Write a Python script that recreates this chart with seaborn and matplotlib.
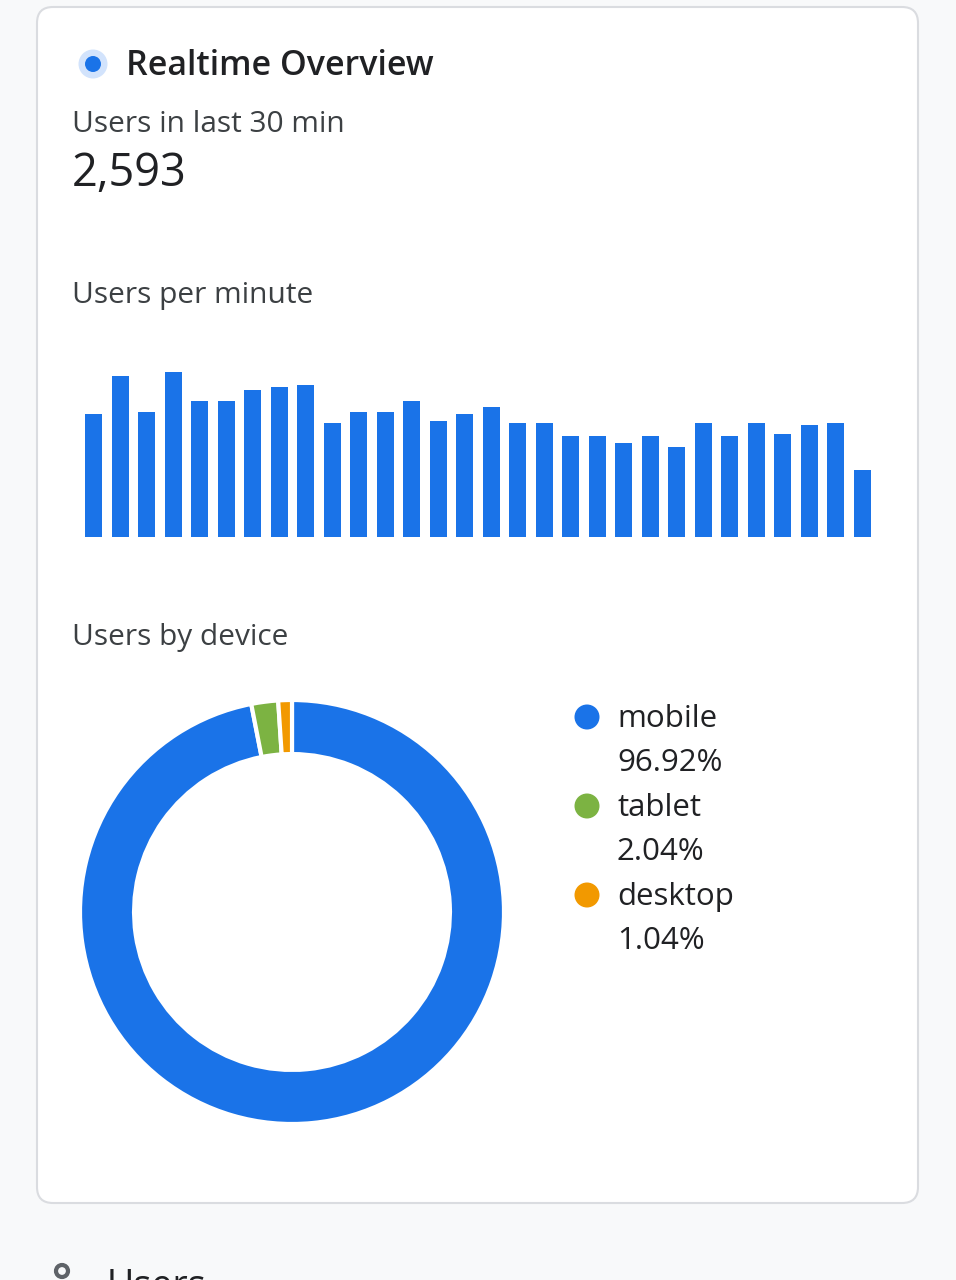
import numpy as np
import pandas as pd
import matplotlib
matplotlib.use("Agg")
import matplotlib.pyplot as plt
from matplotlib.patches import FancyBboxPatch, Circle
import seaborn as sns

# data
minutes = list(range(1, 31))
users_per_minute = [123, 161, 125, 165, 136, 136, 147, 150, 152, 114,
                    125, 125, 136, 116, 123, 130, 114, 114, 101, 101,
                    94, 101, 90, 114, 101, 114, 103, 112, 114, 67]
devices = ["mobile", "tablet", "desktop"]
device_share = [96.92, 2.04, 1.04]
device_colors = ["#1a73e8", "#7cb342", "#f29900"]
title = "Realtime Overview"
users_30min = "2,593"

sns.set_theme(style="white")
plt.rcParams['font.family'] = ['Open Sans', 'DejaVu Sans']

W, H = 956, 1280
fig = plt.figure(figsize=(W / 100, H / 100), dpi=100)
fig.patch.set_facecolor("#f8f9fa")


def fx(x):
    return x / W


def fy(y):
    return 1 - y / H


# background layer in pixel coordinates (card, dots)
bg = fig.add_axes([0, 0, 1, 1], zorder=-1)
bg.set_xlim(0, W)
bg.set_ylim(H, 0)
bg.axis("off")
bg.add_patch(FancyBboxPatch((37, 7), 881, 1196, boxstyle="round,pad=0,rounding_size=16",
                            facecolor="white", edgecolor="#dadce0", linewidth=1.5))
bg.add_patch(Circle((93, 64), 14.5, facecolor="#d2e3fc", edgecolor="none"))
bg.add_patch(Circle((93, 64), 8, facecolor="#1a73e8", edgecolor="none"))
for i, c in enumerate(device_colors):
    bg.add_patch(Circle((587, 717 + i * 89), 12.5, facecolor=c, edgecolor="none"))
bg.add_patch(Circle((62, 1271), 6, facecolor="none", edgecolor="#5f6368", linewidth=3))

txt = "#3c4043"
fig.text(fx(126), fy(66), title, fontsize=24.5, color="#202124", va="center", weight="semibold")
fig.text(fx(72), fy(124), "Users in last 30 min", fontsize=21.5, color=txt, va="center")
fig.text(fx(72), fy(174), users_30min, fontsize=32.5, color="#202124", va="center")
fig.text(fx(72), fy(296), "Users per minute", fontsize=21.5, color=txt, va="center")
fig.text(fx(72), fy(638), "Users by device", fontsize=21.5, color=txt, va="center")

# bar chart
ax = fig.add_axes([fx(85), fy(537), fx(871) - fx(85), 170 / H])
df = pd.DataFrame({"minute": minutes, "users": users_per_minute})
sns.barplot(data=df, x="minute", y="users", color="#1a73e8", saturation=1,
            width=0.66, linewidth=0, ax=ax)
ax.set_xlim(-0.33, len(minutes) - 0.67)
ax.set_ylim(0, 170)
ax.axis("off")

# donut
ax2 = fig.add_axes([fx(80), fy(1124), 424 / W, 424 / H])
ax2.pie(device_share, colors=device_colors, startangle=90, counterclock=False,
        wedgeprops=dict(width=0.255, edgecolor="white", linewidth=3))
ax2.set_xlim(-1, 1)
ax2.set_ylim(-1, 1)
ax2.set_aspect("equal")
ax2.axis("off")

# legend labels
for i, (d, s) in enumerate(zip(devices, device_share)):
    y = 717 + i * 89
    fig.text(fx(617), fy(y + 2), d, fontsize=22.5, color="#202124", va="center")
    fig.text(fx(617), fy(y + 46), f"{s:.2f}%", fontsize=22.5, color="#202124", va="center")

# next section peeking at the bottom edge
fig.text(fx(107), fy(1287), "Users", fontsize=27, color="#202124", va="center")

fig.savefig("out.png", dpi=100, facecolor=fig.get_facecolor())
